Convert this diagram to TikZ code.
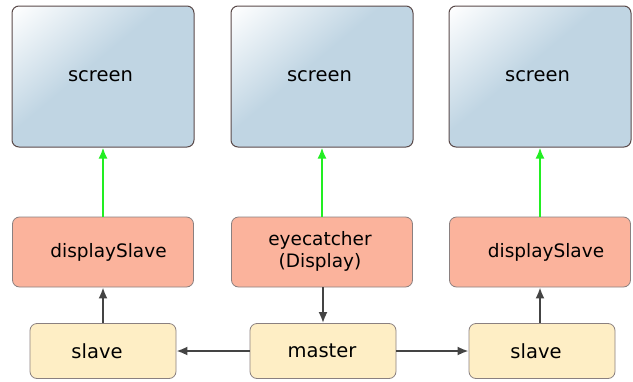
\documentclass[tikz,border=0pt]{standalone}
\usepackage{fontspec}
\setmainfont{DejaVu Sans}
\usetikzlibrary{arrows.meta}
\definecolor{scrblue}{HTML}{C0D5E3}
\definecolor{scrborder}{HTML}{5A4A4A}
\definecolor{redfill}{HTML}{FBB39C}
\definecolor{yelfill}{HTML}{FEEEC5}
\definecolor{boxborder}{HTML}{8A8080}
\definecolor{arrgray}{HTML}{444444}
\definecolor{arrgreen}{HTML}{22EE22}
\pgfdeclareverticalshading{scrshade}{100bp}{color(0bp)=(scrblue); color(55bp)=(scrblue); color(85bp)=(white); color(100bp)=(white)}
\tikzset{
  screenbox/.style={draw=scrborder, line width=1pt, rounded corners=7pt, shading=scrshade, shading angle=40, minimum width=182pt, minimum height=141pt, inner sep=0pt},
  dispbox/.style={draw=boxborder, line width=0.8pt, fill=redfill, rounded corners=7pt, minimum width=181pt, minimum height=70pt, inner sep=0pt},
  nodebox/.style={draw=boxborder, line width=0.8pt, fill=yelfill, rounded corners=7pt, minimum width=146pt, minimum height=55pt, inner sep=0pt},
  bigtext/.style={font=\fontsize{19.5}{22}\selectfont, inner sep=0pt},
  midtext/.style={font=\fontsize{18.5}{22}\selectfont, inner sep=0pt, align=center},
  grayarrow/.style={draw=arrgray, line width=2pt, -{Latex[length=11pt,width=9pt]}},
  greenarrow/.style={draw=arrgreen, line width=2pt, -{Latex[length=11pt,width=9pt]}},
}
\begin{document}
\begin{tikzpicture}[x=1pt,y=-1pt]
\useasboundingbox (0,0) rectangle (633,381);
% screens
\node[screenbox] (s1) at (103,76.5) {};
\node[screenbox] (s2) at (322,76.5) {};
\node[screenbox] (s3) at (540,76.5) {};
\node[bigtext] (t1) at (100.5,76) {screen};
\node[bigtext] (t2) at (319.5,76) {screen};
\node[bigtext] (t3) at (537.5,76) {screen};
% display row
\node[dispbox] (d1) at (103,252) {};
\node[dispbox] (d2) at (322,252) {};
\node[dispbox] (d3) at (540,252) {};
\node[midtext] (dt1) at (108.5,252) {displaySlave};
\node[midtext] (dt2) at (320,251) {eyecatcher\\(Display)};
\node[midtext] (dt3) at (546,252) {displaySlave};
% bottom row
\node[nodebox] (n1) at (103,351) {};
\node[nodebox] (n2) at (323,351) {};
\node[nodebox] (n3) at (542,351) {};
\node[bigtext] (nt1) at (97,351) {slave};
\node[bigtext] (nt2) at (322,351) {master};
\node[bigtext] (nt3) at (536,351) {slave};
% green arrows
\draw[greenarrow] (d1.north) -- (s1.south);
\draw[greenarrow] (d2.north) -- (s2.south);
\draw[greenarrow] (d3.north) -- (s3.south);
% gray arrows
\draw[grayarrow] (n1.north) -- (n1.north |- d1.south);
\draw[grayarrow] (d2.south -| n2.north) -- (n2.north);
\draw[grayarrow] (n3.north -| d3.south) -- (d3.south);
\draw[grayarrow] (n2.west) -- (n1.east);
\draw[grayarrow] (n2.east) -- (n3.west);
\end{tikzpicture}
\end{document}
